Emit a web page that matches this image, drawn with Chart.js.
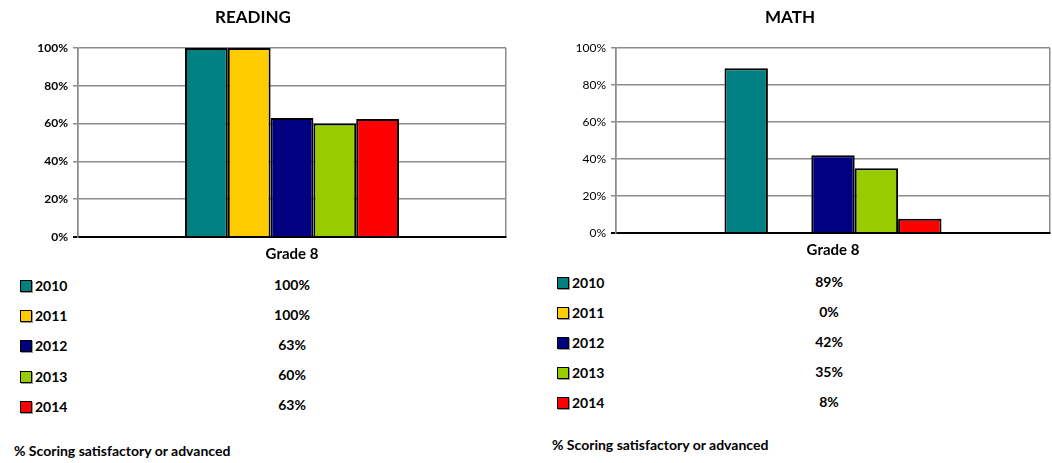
<!DOCTYPE html>
<html>
<head>
<meta charset="utf-8">
<script src="https://cdn.jsdelivr.net/npm/chart.js@4/dist/chart.umd.min.js"></script>
<style>
  body { margin: 0; background: #fff; font-family: Lato, "Open Sans", sans-serif; }
  #page { position: relative; width: 1052px; height: 463px; overflow: hidden; }
  canvas { position: absolute; top: 0; }
  .txt { position: absolute; font-weight: bold; font-size: 14px; color: #000; line-height: 18px; height: 18px; white-space: nowrap; }
  .swatch { position: absolute; width: 10px; height: 10px; border: 1px solid #000; box-shadow: 1px 1px 0 #999; }
</style>
</head>
<body>
<div id="page">
  <canvas id="reading" width="508" height="274" style="left:0px"></canvas>
  <canvas id="math" width="522" height="270" style="left:530px"></canvas>
</div>
<script>
// valores
const years = ["2010", "2011", "2012", "2013", "2014"];
const grades = ["Grade 8"];
const readingValues = [100, 100, 63, 60, 62.5];
const mathValues = [89, 0, 42, 35, 7.7];
const yearColors = ["#008080", "#FFCC00", "#000080", "#99CC00", "#FF0000"];
const yTicks = [0, 20, 40, 60, 80, 100];
const footNote = "% Scoring satisfactory or advanced";

const gridGray = "#8c8c8c";

function makeChart(canvas, title, values, opts) {
  const datasets = years.map((y, i) => ({
    label: y,
    data: [values[i]],
    backgroundColor: yearColors[i],
    borderColor: "#000",
    borderWidth: 2,
    categoryPercentage: 0.5,
    barPercentage: 1
  }));

  return new Chart(canvas, {
    type: "bar",
    data: { labels: grades, datasets: datasets },
    options: {
      responsive: false,
      animation: false,
      layout: { padding: { left: 0, right: 2, top: 0, bottom: opts.padBottom } },
      plugins: {
        legend: { display: false },
        tooltip: { enabled: false },
        title: {
          display: true,
          text: title,
          color: "#000",
          font: { family: "Lato", size: 17, weight: "bold" },
          padding: { top: 7, bottom: 20.6 }
        }
      },
      scales: {
        x: {
          grid: { display: true, offset: true, drawTicks: false, color: gridGray, lineWidth: 1.5 },
          border: { display: true, color: "#000", width: 2 },
          ticks: { color: "#000", padding: 8, font: { family: "Lato", size: 15, weight: "bold" } }
        },
        y: {
          min: 0,
          max: 100,
          afterBuildTicks: (scale) => { scale.ticks = yTicks.map(v => ({ value: v })); },
          afterFit: (scale) => { scale.width = opts.axisWidth; },
          grid: {
            color: (c) => (c.tick && c.tick.value === 0 ? "#000" : gridGray),
            lineWidth: (c) => (c.tick && c.tick.value === 0 ? 2 : 1.5),
            tickLength: 5
          },
          border: { color: gridGray, width: 1.5 },
          ticks: {
            color: "#000",
            padding: 5,
            font: { family: "Lato", size: 12, weight: opts.tickWeight },
            callback: (v) => v + "%"
          }
        }
      }
    }
  });
}

makeChart(document.getElementById("reading"), "READING", readingValues,
  { axisWidth: 78, padBottom: 3, tickWeight: "bold" });
makeChart(document.getElementById("math"), "MATH", mathValues,
  { axisWidth: 86, padBottom: 3, tickWeight: "normal" });

// tabla de valores debajo de cada grafico
const page = document.getElementById("page");
function addText(text, left, centerY, centerX) {
  const d = document.createElement("div");
  d.className = "txt";
  d.textContent = text;
  d.style.top = (centerY - 9) + "px";
  if (centerX !== undefined) {
    d.style.left = centerX + "px";
    d.style.transform = "translateX(-50%)";
  } else {
    d.style.left = left + "px";
  }
  page.appendChild(d);
}

function addTable(values, swatchX, rowY, rowStep, valueX, footX, footY) {
  years.forEach((y, i) => {
    const cy = rowY + i * rowStep;
    const s = document.createElement("div");
    s.className = "swatch";
    s.style.left = swatchX + "px";
    s.style.top = (cy - 6) + "px";
    s.style.background = yearColors[i];
    page.appendChild(s);
    addText(y, swatchX + 15, cy);
    addText(Math.round(values[i]) + "%", 0, cy - 1.5, valueX);
  });
  addText(footNote, footX, footY);
}

addTable(readingValues, 20, 286, 30.2, 292, 14, 451);
addTable(mathValues, 557, 283.3, 30, 829, 552, 444.5);
</script>
</body>
</html>
